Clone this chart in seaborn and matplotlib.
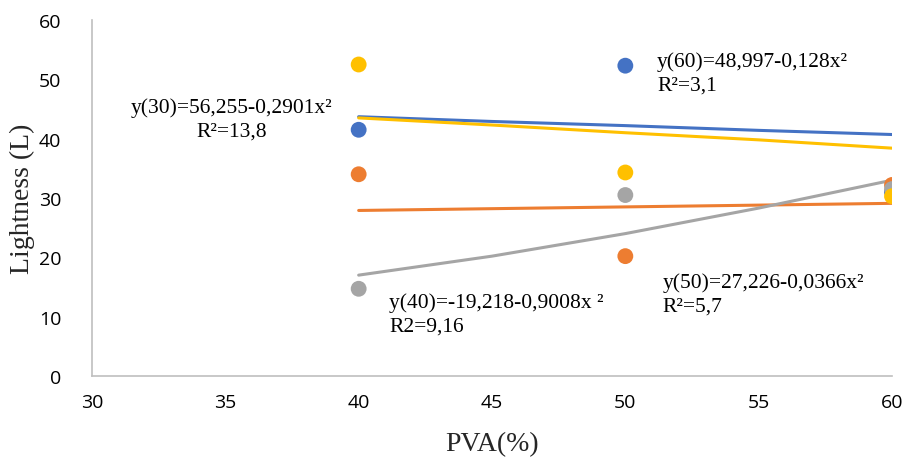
import matplotlib
matplotlib.use("Agg")
import matplotlib.pyplot as plt
import seaborn as sns
import pandas as pd

# Data
pva = [40, 50, 60]
series_names = ["60", "50", "40", "30"]
blue_vals = [41.5, 52.3, 31.0]
orange_vals = [34.0, 20.2, 32.2]
gray_vals = [14.7, 30.5, 31.5]
yellow_vals = [52.5, 34.3, 30.3]

# Trend-line values
trend_x = [40, 45, 50, 55, 60]
blue_trend = [43.7, 42.9, 42.2, 41.4, 40.7]
orange_trend = [27.9, 28.2, 28.5, 28.8, 29.1]
gray_trend = [17.0, 20.2, 24.0, 28.3, 33.0]
yellow_trend = [43.5, 42.3, 41.0, 39.8, 38.4]

colors = ["#4472C4", "#ED7D31", "#A5A5A5", "#FFC000"]

pts = pd.DataFrame({
    "PVA": pva * 4,
    "L": blue_vals + orange_vals + gray_vals + yellow_vals,
    "s": sum([[n] * 3 for n in series_names], []),
})
tr = pd.DataFrame({
    "PVA": trend_x * 4,
    "L": blue_trend + orange_trend + gray_trend + yellow_trend,
    "s": sum([[n] * 5 for n in series_names], []),
})

sns.set_theme(style="white")
fig = plt.figure(figsize=(9.06, 4.6), dpi=100)
ax = fig.add_axes([92 / 906, 1 - 377 / 460, 800 / 906, 356 / 460])

pal = dict(zip(series_names, colors))
sns.lineplot(data=tr, x="PVA", y="L", hue="s", palette=pal, linewidth=2.2,
             legend=False, ax=ax, zorder=2)
sns.scatterplot(data=pts, x="PVA", y="L", hue="s", palette=pal, s=130,
                edgecolor="none", legend=False, ax=ax, zorder=3)

ax.set_xlim(30, 60)
ax.set_ylim(0, 60)
ax.set_xticks([30, 35, 40, 45, 50, 55, 60])
ax.set_yticks([0, 10, 20, 30, 40, 50, 60])
for sp in ["top", "right"]:
    ax.spines[sp].set_visible(False)
for sp in ["left", "bottom"]:
    ax.spines[sp].set_color("#BFBFBF")
    ax.spines[sp].set_linewidth(1.2)
ax.tick_params(axis="both", length=0, labelsize=14, colors="black")
ax.tick_params(axis="x", pad=12)
ax.tick_params(axis="y", pad=22)
for lab in ax.get_xticklabels() + ax.get_yticklabels():
    lab.set_fontfamily("Open Sans")

serif = "Liberation Serif"
ax.set_xlabel("PVA(%)", fontfamily=serif, fontsize=20, labelpad=15)
ax.set_ylabel("Lightness (L)", fontfamily=serif, fontsize=20, labelpad=3)

tk = dict(fontfamily=serif, fontsize=15.5, color="black", transform=ax.transData)
ls = 1.3
ax.text(35.25, 43.3, "y(30)=56,255-0,2901x²\nR²=13,8", ha="center", va="center",
        linespacing=ls, **tk)
ax.text(51.19, 51.1, "y(60)=48,997-0,128x²\nR²=3,1", ha="left", va="center",
        linespacing=ls, **tk)
ax.text(41.14, 10.5, "y(40)=-19,218-0,9008x ²\nR2=9,16", ha="left", va="center",
        linespacing=ls, **tk)
ax.text(51.4, 13.8, "y(50)=27,226-0,0366x²\nR²=5,7", ha="left", va="center",
        linespacing=ls, **tk)

fig.savefig("out.png", dpi=100)
